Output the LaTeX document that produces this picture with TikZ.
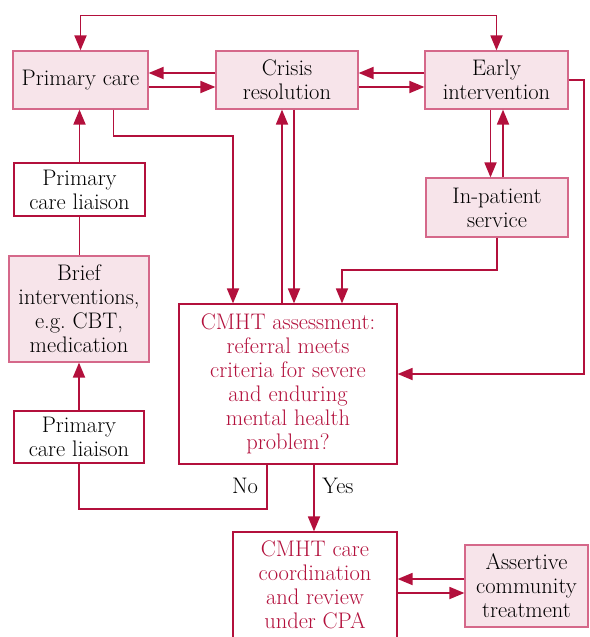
\documentclass[tikz,border=0pt]{standalone}
\usetikzlibrary{arrows.meta,calc}
\definecolor{crim}{HTML}{B3103C}
\definecolor{pinkfill}{HTML}{F7E4EA}
\definecolor{pinkline}{HTML}{D5688A}
\begin{document}
\begin{tikzpicture}[x=1pt,y=-1pt,
  every node/.style={font=\fontsize{22.5}{24}\selectfont, inner sep=0pt, align=center},
  fillbox/.style={draw=pinkline, fill=pinkfill, line width=1.2pt, text=black},
  whitebox/.style={draw=crim, fill=white, line width=1.2pt, text=black},
  redbox/.style={draw=crim, fill=white, line width=1.2pt, text=crim},
  conn/.style={draw=crim, line width=1.8pt},
  arr/.style={conn, -{Triangle[length=15pt,width=12pt]}},
  darr/.style={conn, {Triangle[length=15pt,width=12pt]}-{Triangle[length=15pt,width=12pt]}}
]
\useasboundingbox (0,0) rectangle (589,637);

\node[fillbox, minimum width=135pt, minimum height=58pt] (pc) at (80.5,80) {Primary care};
\node[fillbox, minimum width=142pt, minimum height=58pt] (cr) at (287,80) {Crisis\\resolution};
\node[fillbox, minimum width=143pt, minimum height=58pt] (ei) at (496.5,80) {Early\\intervention};
\node[fillbox, minimum width=142pt, minimum height=59pt] (ip) at (497,207.5) {In-patient\\service};
\node[whitebox, minimum width=131pt, minimum height=53pt] (pcl1) at (79.5,189.5) {Primary\\care liaison};
\node[fillbox, minimum width=140pt, minimum height=106pt] (brief) at (79,309) {Brief\\interventions,\\e.g.\ CBT,\\medication};
\node[whitebox, minimum width=130pt, minimum height=52pt] (pcl2) at (79,437) {Primary\\care liaison};
\node[redbox, minimum width=218pt, minimum height=160pt] (cmht) at (288,384) {CMHT assessment:\\referral meets\\criteria for severe\\and enduring\\mental health\\problem?};
\node[redbox, minimum width=164pt, minimum height=116pt] (care) at (315,590) {};
\node[text=crim] (caretext) at (315,585) {CMHT care\\coordination\\and review\\under CPA};
\node[fillbox, minimum width=123pt, minimum height=82pt] (act) at (526.5,586) {Assertive\\community\\treatment};

% top loop
\draw[darr] (pc.north) -- ++(0,-35) -| (ei.north);
% pc <-> cr
\draw[arr] ([yshift=7pt]cr.west) -- ([yshift=7pt]pc.east);
\draw[arr] ([yshift=-7pt]pc.east) -- ([yshift=-7pt]cr.west);
% cr <-> ei
\draw[arr] ([yshift=7pt]ei.west) -- ([yshift=7pt]cr.east);
\draw[arr] ([yshift=-7pt]cr.east) -- ([yshift=-7pt]ei.west);
% ei -> cmht right side
\draw[arr] (ei.east) -- ++(15,0) |- ([yshift=10pt]cmht.east);
% ei <-> ip
\draw[arr] ([xshift=-6pt]ei.south) -- ([xshift=-6pt]ei.south |- ip.north);
\draw[arr] ([xshift=6pt]ip.north) -- ([xshift=6pt]ip.north |- ei.south);
% ip -> cmht
\draw[arr] (ip.south) -- ++(0,32) -| ([xshift=54pt]cmht.north);
% pc -> cmht
\draw[arr] ([xshift=33pt]pc.south) -- ++(0,26) -| ([xshift=-55pt]cmht.north);
% cmht <-> cr
\draw[arr] ([xshift=-6pt]cmht.north) -- ([xshift=-6pt]cmht.north |- cr.south);
\draw[arr] ([xshift=7pt]cr.south) -- ([xshift=7pt]cr.south |- cmht.north);
% left column
\draw[arr] (pcl1.north) -- (pcl1.north |- pc.south);
\draw[conn] (pcl1.south) -- (pcl1.south |- brief.north);
\draw[arr] (pcl2.north) -- (pcl2.north |- brief.south);
% No
\draw[conn] ([xshift=-21pt]cmht.south) -- ++(0,44) -| (pcl2.south);
\node (no) at (245,486) {No};
% Yes
\draw[arr] ([xshift=26pt]cmht.south) -- ([xshift=26pt]cmht.south |- care.north);
\node (yes) at (338,486) {Yes};
% care <-> act
\draw[arr] ([yshift=7pt]act.west) -- ([yshift=7pt]act.west -| care.east);
\draw[arr] ([yshift=-7pt]act.west -| care.east) -- ([yshift=-7pt]act.west);
\end{tikzpicture}
\end{document}
